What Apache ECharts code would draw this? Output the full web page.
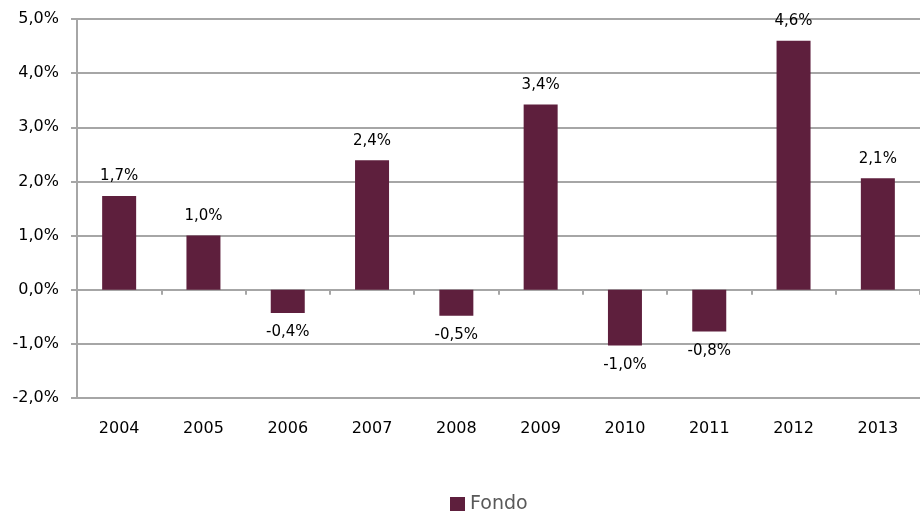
<!DOCTYPE html>
<html>
<head>
<meta charset="utf-8">
<script src="https://cdn.jsdelivr.net/npm/echarts@6/dist/echarts.min.js"></script>
<style>
  html, body { margin: 0; padding: 0; background: #fff; }
  #myChart { width: 920px; height: 511px; }
</style>
</head>
<body>
<div id="myChart"></div>
<script>
var years = ['2004', '2005', '2006', '2007', '2008', '2009', '2010', '2011', '2012', '2013'];
var fondo = [1.73, 1.0, -0.43, 2.39, -0.48, 3.42, -1.03, -0.77, 4.6, 2.06];
var seriesName = 'Fondo';
var yMin = -2, yMax = 5, yStep = 1;

var fmt = function (v) { return v.toFixed(1).replace('.', ',') + '%'; };
var fontFam = 'DejaVu Sans';
var barColor = '#5E1F3D';
var gridColor = '#A6A6A6';

var myChart = echarts.init(document.getElementById('myChart'));
var option = {
  animation: false,
  textStyle: { fontFamily: fontFam },
  legend: {
    data: [{ name: seriesName, icon: 'rect' }],
    top: 490,
    left: 445,
    itemWidth: 15,
    itemHeight: 15,
    itemGap: 8,
    textStyle: { fontSize: 19, color: '#595959', fontFamily: fontFam }
  },
  grid: { left: 77, right: -7, top: 19, bottom: 113 },
  xAxis: [
    {
      type: 'category',
      data: years,
      axisLine: { onZero: false, lineStyle: { color: gridColor, width: 2 } },
      axisTick: { show: false },
      axisLabel: { fontSize: 16, color: '#000', margin: 23 }
    },
    {
      type: 'category',
      data: years,
      position: 'bottom',
      axisLine: { onZero: true, lineStyle: { color: gridColor, width: 2 } },
      axisTick: { show: true, length: 5, lineStyle: { color: gridColor, width: 2 } },
      axisLabel: { show: false }
    }
  ],
  yAxis: {
    type: 'value',
    min: yMin,
    max: yMax,
    interval: yStep,
    axisLine: { show: true, lineStyle: { color: gridColor, width: 2 } },
    axisTick: { show: true, length: 6, lineStyle: { color: gridColor, width: 2 } },
    splitLine: { lineStyle: { color: gridColor, width: 2 } },
    axisLabel: { fontSize: 16, color: '#000', margin: 18, formatter: fmt }
  },
  series: [{
    name: seriesName,
    type: 'bar',
    barWidth: 34,
    itemStyle: { color: barColor },
    data: fondo.map(function (v) {
      return {
        value: v,
        label: { position: v >= 0 ? 'top' : 'bottom' }
      };
    }),
    label: {
      show: true,
      distance: 12,
      fontSize: 15,
      color: '#000',
      formatter: function (p) { return fmt(p.value); }
    }
  }]
};
myChart.setOption(option);
</script>
</body>
</html>
